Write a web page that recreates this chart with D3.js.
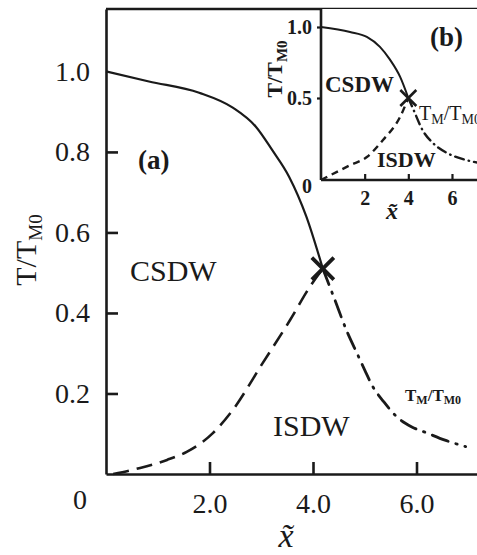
<!DOCTYPE html>
<html>
<head>
<meta charset="utf-8">
<script src="https://cdn.jsdelivr.net/npm/d3@7"></script>
<style>
  body { margin: 0; background: #fff; }
  svg { display: block; font-family: "Liberation Serif", "Times New Roman", serif; }
</style>
</head>
<body>
<svg id="chart" width="477" height="555"></svg>
<script>
// main panel (a): phase boundaries, x~ vs T/TM0
const csdwBoundary = [[0, 1.0], [0.83, 0.975], [1.8, 0.947], [2.45, 0.91], [2.9, 0.862], [3.21, 0.805], [3.54, 0.738], [3.87, 0.64], [4.19, 0.51]];
const isdwBoundary = [[0.14, 0], [0.66, 0.015], [1.18, 0.035], [1.56, 0.055], [2.07, 0.102], [2.45, 0.159], [3.03, 0.276], [3.56, 0.383], [3.94, 0.465], [4.19, 0.51]];
const tmBoundary = [[4.19, 0.51], [4.4, 0.44], [4.66, 0.353], [4.85, 0.30], [5.0, 0.258], [5.16, 0.216], [5.37, 0.179], [5.62, 0.142], [5.91, 0.117], [6.2, 0.102], [6.55, 0.084], [6.95, 0.068]];
const crossPoint = [4.19, 0.51];
const mainYTicks = [0.2, 0.4, 0.6, 0.8, 1.0];
const mainXTicks = [2, 4, 6];

// inset (b)
const insetCsdw = [[0, 1.0], [1.33, 0.965], [2.1, 0.93], [2.7, 0.86], [3.16, 0.77], [3.62, 0.65], [4.0, 0.5]];
const insetIsdw = [[0, 0], [1.33, 0.09], [2.1, 0.14], [2.84, 0.244], [3.62, 0.384], [4.0, 0.5]];
const insetTm = [[4.0, 0.5], [4.2, 0.44], [4.67, 0.30], [5.13, 0.225], [5.77, 0.165], [6.7, 0.12], [7.2, 0.105]];
const insetCross = [4.0, 0.5];
const insetYTicks = [0, 0.5, 1.0];
const insetXTicks = [2, 4, 6];

const ink = "#1a1a1a";
const svg = d3.select("#chart");

// scales
const x = d3.scaleLinear().domain([0, 7.2]).range([106, 106 + 7.2 * 51.75]);
const y = d3.scaleLinear().domain([0, 1.155]).range([474, 9]);

const line = d3.line()
    .x(d => x(d[0]))
    .y(d => y(d[1]))
    .curve(d3.curveMonotoneX);

// axes
const yAxis = svg.append("g")
    .attr("transform", `translate(${x(0)},0)`)
    .call(d3.axisLeft(y).tickValues(mainYTicks).tickSizeInner(-12).tickSizeOuter(0)
        .tickPadding(16).tickFormat(d3.format(".1f")));
const xAxis = svg.append("g")
    .attr("transform", `translate(0,${y(0)})`)
    .call(d3.axisBottom(x).tickValues(mainXTicks).tickSizeInner(-12).tickSizeOuter(0)
        .tickPadding(19).tickFormat(d3.format(".1f")));

[yAxis, xAxis].forEach(g => {
    g.selectAll("path.domain").attr("stroke", ink).attr("stroke-width", 2.6);
    g.selectAll(".tick line").attr("stroke", ink).attr("stroke-width", 2.6);
    g.selectAll(".tick text").attr("fill", ink)
        .style("font-family", "Liberation Serif").style("font-size", "28px");
});
// no tick mark at 1.0
yAxis.selectAll(".tick").filter(d => d === 1.0).select("line").remove();

// top border
svg.append("line")
    .attr("x1", x(0)).attr("x2", 477)
    .attr("y1", y(1.155)).attr("y2", y(1.155))
    .attr("stroke", ink).attr("stroke-width", 2.6);

// curves
svg.append("path").datum(csdwBoundary)
    .attr("d", line).attr("fill", "none").attr("stroke", ink).attr("stroke-width", 2.2);
svg.append("path").datum(isdwBoundary)
    .attr("d", line).attr("fill", "none").attr("stroke", ink).attr("stroke-width", 2.6)
    .attr("stroke-dasharray", "16,8");
svg.append("path").datum(tmBoundary)
    .attr("d", line).attr("fill", "none").attr("stroke", ink).attr("stroke-width", 2.8)
    .attr("stroke-linecap", "round").attr("stroke-dasharray", "17,8,1.5,8");

// cross marker
function drawCross(g, cx, cy, r, w) {
    g.append("path")
        .attr("d", `M${cx - r},${cy - r}L${cx + r},${cy + r}M${cx - r},${cy + r}L${cx + r},${cy - r}`)
        .attr("stroke", ink).attr("stroke-width", w).attr("fill", "none");
}
drawCross(svg, x(crossPoint[0]), y(crossPoint[1]), 11, 3.8);

// labels
svg.append("text").attr("x", 80).attr("y", 509).attr("text-anchor", "middle")
    .attr("fill", ink).style("font-size", "28px").text("0");

svg.append("text").attr("x", 138).attr("y", 169).attr("fill", ink)
    .style("font-size", "27px").style("font-weight", "bold").text("(a)");
svg.append("text").attr("x", 130).attr("y", 281).attr("fill", ink)
    .style("font-size", "30px").text("CSDW");
svg.append("text").attr("x", 273).attr("y", 436).attr("fill", ink)
    .style("font-size", "30px").text("ISDW");

const tmLabel = svg.append("text").attr("x", 405).attr("y", 401).attr("fill", ink)
    .style("font-size", "17px").style("font-weight", "bold");
tmLabel.append("tspan").text("T");
tmLabel.append("tspan").attr("dy", 3).style("font-size", "12px").text("M");
tmLabel.append("tspan").attr("dy", -3).text("/T");
tmLabel.append("tspan").attr("dy", 3).style("font-size", "12px").text("M0");

const yLabel = svg.append("text")
    .attr("transform", "translate(36,250) rotate(-90)")
    .attr("text-anchor", "middle").attr("fill", ink).style("font-size", "30px");
yLabel.append("tspan").text("T/T");
yLabel.append("tspan").attr("dy", 6).style("font-size", "19px").text("M0");

svg.append("text").attr("x", 286).attr("y", 547).attr("text-anchor", "middle")
    .attr("fill", ink).style("font-size", "34px").style("font-style", "italic").text("x\u0303");

// ---------- inset (b) ----------
const xi = d3.scaleLinear().domain([0, 7.2]).range([321, 321 + 7.2 * 21.83]);
const yi = d3.scaleLinear().domain([0, 0.5, 1.0]).range([180, 98, 27]);
const lineI = d3.line()
    .x(d => xi(d[0]))
    .y(d => yi(d[1]))
    .curve(d3.curveMonotoneX);

const inset = svg.append("g");
inset.append("rect")
    .attr("x", xi(0)).attr("y", y(1.155))
    .attr("width", 477 - xi(0)).attr("height", yi(0) - y(1.155))
    .attr("fill", "#fff");

const yAxisI = inset.append("g")
    .attr("transform", `translate(${xi(0)},0)`)
    .call(d3.axisLeft(yi).tickValues(insetYTicks).tickSizeInner(4).tickSizeOuter(0)
        .tickPadding(5).tickFormat(d => d === 0 ? "0" : d3.format(".1f")(d)));
const xAxisI = inset.append("g")
    .attr("transform", `translate(0,${yi(0)})`)
    .call(d3.axisBottom(xi).tickValues(insetXTicks).tickSizeInner(-6).tickSizeOuter(0)
        .tickPadding(11));

[yAxisI, xAxisI].forEach(g => {
    g.selectAll("path.domain").remove();
    g.selectAll(".tick line").attr("stroke", ink).attr("stroke-width", 2.2);
    g.selectAll(".tick text").attr("fill", ink)
        .style("font-family", "Liberation Serif").style("font-size", "20px").style("font-weight", "bold");
});
yAxisI.selectAll(".tick").filter(d => d === 0).select("line").remove();
yAxisI.selectAll(".tick").filter(d => d === 0).select("text").attr("dy", "0.6em");

// inset frame (left side and bottom)
inset.append("line")
    .attr("x1", xi(0)).attr("x2", xi(0)).attr("y1", y(1.155)).attr("y2", yi(0))
    .attr("stroke", ink).attr("stroke-width", 2.6);
inset.append("line")
    .attr("x1", xi(0)).attr("x2", 477).attr("y1", yi(0)).attr("y2", yi(0))
    .attr("stroke", ink).attr("stroke-width", 2.6);

inset.append("path").datum(insetCsdw)
    .attr("d", lineI).attr("fill", "none").attr("stroke", ink).attr("stroke-width", 2);
inset.append("path").datum(insetIsdw)
    .attr("d", lineI).attr("fill", "none").attr("stroke", ink).attr("stroke-width", 2.4)
    .attr("stroke-dasharray", "7,5");
inset.append("path").datum(insetTm)
    .attr("d", lineI).attr("fill", "none").attr("stroke", ink).attr("stroke-width", 2.4)
    .attr("stroke-linecap", "round").attr("stroke-dasharray", "9,5,0.5,5");
drawCross(inset, xi(insetCross[0]), yi(insetCross[1]), 8, 2.6);

inset.append("text").attr("x", 430).attr("y", 46).attr("fill", ink)
    .style("font-size", "27px").style("font-weight", "bold").text("(b)");
inset.append("text").attr("x", 325).attr("y", 92).attr("fill", ink)
    .style("font-size", "23px").style("font-weight", "bold").text("CSDW");
inset.append("text").attr("x", 377).attr("y", 167).attr("fill", ink)
    .style("font-size", "22px").style("font-weight", "bold").text("ISDW");

const tmI = inset.append("text").attr("x", 419).attr("y", 120).attr("fill", ink)
    .style("font-size", "20px");
tmI.append("tspan").text("T");
tmI.append("tspan").attr("dy", 4).style("font-size", "14px").text("M");
tmI.append("tspan").attr("dy", -4).text("/T");
tmI.append("tspan").attr("dy", 4).style("font-size", "14px").text("M0");

const yLabelI = svg.append("text")
    .attr("transform", "translate(282,69) rotate(-90)")
    .attr("text-anchor", "middle").attr("fill", ink)
    .style("font-size", "22px").style("font-weight", "bold");
yLabelI.append("tspan").text("T/T");
yLabelI.append("tspan").attr("dy", 5).style("font-size", "15px").text("M0");

svg.append("text").attr("x", 392).attr("y", 219).attr("text-anchor", "middle")
    .attr("fill", ink).style("font-size", "24px").style("font-style", "italic")
    .style("font-weight", "bold").text("x\u0303");
</script>
</body>
</html>
